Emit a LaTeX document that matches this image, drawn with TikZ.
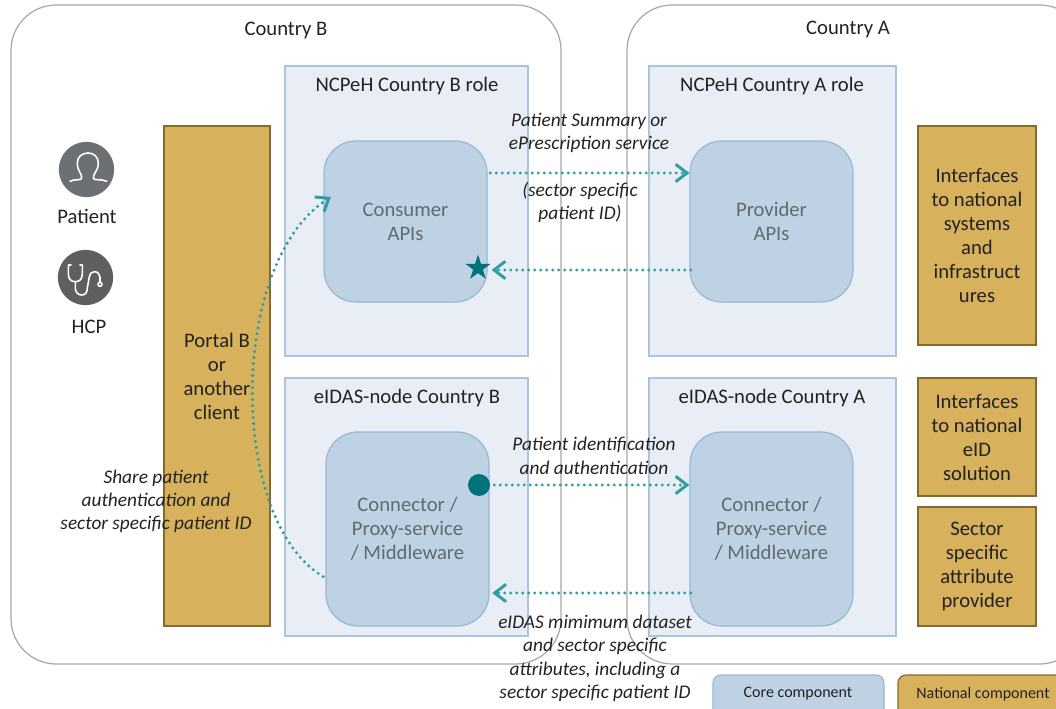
\documentclass[tikz,border=0pt]{standalone}
\usepackage{fontspec}
\setmainfont{Carlito}
\usepackage{tikz}
\usetikzlibrary{arrows.meta,shapes.geometric}

\definecolor{regionfill}{HTML}{E9EEF6}
\definecolor{regionline}{HTML}{A9C4DD}
\definecolor{apifill}{HTML}{BFD2E4}
\definecolor{apiline}{HTML}{94B8D6}
\definecolor{natfill}{HTML}{D7B15C}
\definecolor{natline}{HTML}{846A2C}
\definecolor{flowteal}{HTML}{2E9EA0}
\definecolor{markteal}{HTML}{00727A}
\definecolor{apitext}{HTML}{5F6A72}
\definecolor{bodytext}{HTML}{222222}
\definecolor{patientgrey}{HTML}{6D7073}
\definecolor{hcpgrey}{HTML}{5E5F61}

\begin{document}
\begin{tikzpicture}[x=0.75pt,y=-0.75pt,font=\fontsize{15.5}{18}\selectfont,text=bodytext,
  boxsize/.style 2 args={minimum width=#1*0.75pt,minimum height=#2*0.75pt,inner sep=0pt},
  country/.style={draw=black!35,line width=0.9pt,rounded corners=34pt},
  region/.style={draw=regionline,fill=regionfill,line width=0.9pt},
  api node/.style={draw=apiline,fill=apifill,line width=0.9pt,rounded corners=24pt,
    align=center,text=apitext},
  national/.style={draw=natline,fill=natfill,line width=0.9pt,align=center},
  legend/.style={line width=0.9pt,rounded corners=6pt},
  note/.style={align=center,font=\fontsize{14.5}{17.5}\selectfont\itshape},
  flow/.style={draw=flowteal,line width=2.5pt,line cap=round,dash pattern=on 0pt off 4.5pt,
    -{Straight Barb[length=8.5pt,width=13pt,line width=2.2pt,line cap=butt]}},
  icon disc/.style={circle,minimum size=41.5pt,inner sep=0pt},
  icon line/.style={draw=white,line width=1.2pt,line cap=round,line join=round}]

  \useasboundingbox (0,0) rectangle (1056,709);
  \clip (0,0) rectangle (1056,709);

  % countries
  \draw[country] (11,5) rectangle (561,664);
  \draw[country] (627,5) rectangle (1085,664);
  \node (countryb) at (286,30) {Country B};
  \node (countrya) at (848,29) {Country A};

  % roles
  \node[region,boxsize={243}{290}] (ncpb) at (406.5,211) {};
  \node[region,boxsize={247}{290}] (ncpa) at (772.5,211) {};
  \node[region,boxsize={243}{258}] (eidb) at (406.5,507) {};
  \node[region,boxsize={247}{258}] (eida) at (772.5,507) {};
  \node (ncpbtitle) at (407,86) {NCPeH Country B role};
  \node (ncpatitle) at (772,86) {NCPeH Country A role};
  \node (eidbtitle) at (407,398) {eIDAS-node Country B};
  \node (eidatitle) at (772,398) {eIDAS-node Country A};

  % core components
  \node[api node,boxsize={163}{161}] (consumer) at (405.5,221.5) {Consumer\\APIs};
  \node[api node,boxsize={163}{161}] (provider) at (771.5,221.5) {Provider\\APIs};
  \node[api node,boxsize={163}{194}] (connb) at (407.5,529) {Connector /\\Proxy-service\\/ Middleware};
  \node[api node,boxsize={163}{194}] (conna) at (771.5,529) {Connector /\\Proxy-service\\/ Middleware};

  % national components
  \node[national,boxsize={106}{500}] (portal) at (217,376) {Portal B\\or\\another\\client};
  \node[national,boxsize={118}{219}] (systems) at (977,235.5) {Interfaces\\to national\\systems\\and\\infrastruct\\ures};
  \node[national,boxsize={118}{118}] (eidsol) at (977,437) {Interfaces\\to national\\eID\\solution};
  \node[national,boxsize={118}{119}] (attr) at (977,566.5) {Sector\\specific\\attribute\\provider};

  % actors
  \node[icon disc,fill=patientgrey] (patient) at (86.5,169.5) {};
  \node[icon disc,fill=hcpgrey] (hcp) at (85.5,277.5) {};
  \node (patientlabel) at (87,216) {Patient};
  \node (hcplabel) at (89,327) {HCP};
  \draw[icon line] (70,181.3) .. controls (75,178.5) and (81.7,181) .. (81.7,178)
    .. controls (81.7,173) and (77.3,171) .. (77.3,163)
    .. controls (77.3,157) and (82,153) .. (88,153)
    .. controls (94,153) and (98.3,157) .. (98.3,163)
    .. controls (98.3,171) and (93.3,173) .. (93.3,178)
    .. controls (93.3,181) and (101,178.5) .. (106.7,181.3);
  \draw[icon line] (71,265) -- (68.3,265) -- (68.3,274)
    .. controls (68.3,279) and (71,281.7) .. (75.3,281.7)
    .. controls (79.6,281.7) and (82.3,279) .. (82.3,274) -- (82.3,265) -- (80,265);
  \draw[icon line] (75.3,281.7) -- (75.3,288)
    .. controls (75.3,292) and (78,295) .. (81.7,295)
    .. controls (85.5,295) and (87.3,292) .. (87.3,288) -- (89.3,277)
    .. controls (89.3,274) and (91.5,271.7) .. (94.3,271.7)
    .. controls (97.5,271.7) and (100,274) .. (100,277) -- (100,282.3);
  \draw[icon line] (100,284.3) circle (2);

  % markers
  \node[star,star points=5,star point ratio=2.6,fill=markteal,minimum size=20pt,inner sep=0pt] (star) at (478,268) {};
  \node[circle,fill=markteal,minimum size=16.5pt,inner sep=0pt] (dot) at (479,485) {};

  \coordinate (sharehead) at (331,197);

  % flows
  \path (consumer.east |- 0,173) edge[flow,shorten <=2pt] (provider.west |- 0,173);
  \path (provider.west |- 0,270) edge[flow,shorten <=-1pt,shorten >=3pt] (consumer.east |- 0,270);
  \path (dot.east) edge[flow,shorten <=3pt] (conna.west |- dot.east);
  \path (conna.west |- 0,593) edge[flow,shorten <=-1pt,shorten >=2pt] (connb.east |- 0,593);
  \draw[flow,shorten <=2pt] (connb.west |- 0,578) .. controls (228,520) and (228,262) .. (sharehead);

  % flow labels
  \node[note] (summary) at (589,133) {Patient Summary or\\ePrescription service};
  \node[note] (sectorid) at (580,202.5) {(sector specific\\patient ID)};
  \node[note] (identify) at (594,456) {Patient identification\\and authentication};
  \node[note] (dataset) at (595,658.5) {eIDAS mimimum dataset\\and sector specific\\attributes, including a\\sector specific patient ID};
  \node[note] (share) at (156,501.5) {Share patient\\authentication and\\sector specific patient ID};

  % legend
  \node[legend,draw=apiline,fill=apifill,boxsize={171}{44}] (legendcore) at (798.5,697) {};
  \node[legend,draw=natline,fill=natfill,boxsize={166}{44}] (legendnat) at (981,697) {};
  \node[font=\fontsize{12}{14}\selectfont] (legendcoretext) at (798,694) {Core component};
  \node[font=\fontsize{12}{14}\selectfont] (legendnattext) at (983,694) {National component};
\end{tikzpicture}
\end{document}
